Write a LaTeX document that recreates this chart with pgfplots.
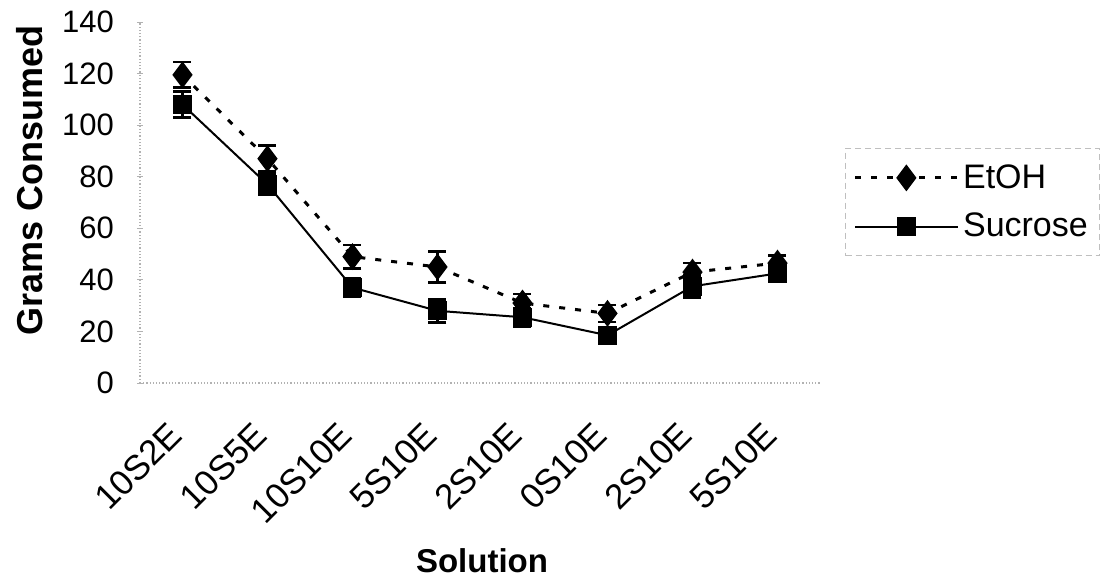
\documentclass[border=0pt]{standalone}
\usepackage{pgfplots}
\pgfplotsset{compat=1.18}
\usepackage{fontspec}
\setmainfont{Liberation Sans}
\usetikzlibrary{calc}
\begin{document}
\begin{tikzpicture}
\begin{axis}[
  name=ax,
  scale only axis,
  width=340pt, height=180.5pt,
  xmin=-0.5, xmax=7.5,
  ymin=0, ymax=140,
  ytick={0,20,...,140},
  xtick={0,...,7},
  xticklabels={10S2E,10S5E,10S10E,5S10E,2S10E,0S10E,2S10E,5S10E},
  axis x line=bottom, axis y line=left,
  axis line style={-, gray!60, densely dotted, line width=0.6pt},
  x tick style={draw=none},
  y tick style={gray!60, line width=0.5pt},
  major tick length=3pt,
  /pgf/number format/assume math mode=true,
  yticklabel style={xshift=-8pt, font=\fontsize{15.5}{17}\selectfont},
  xticklabel style={xshift=-1pt, yshift=-19pt, rotate=45, anchor=east, font=\fontsize{17.5}{19}\selectfont},
  xlabel={\textbf{Solution}},
  ylabel={\textbf{Grams Consumed}},
  xlabel style={at={(axis description cs:0.503,-0.493)}, anchor=center, font=\fontsize{16.5}{18}\selectfont},
  ylabel style={at={(axis description cs:-0.162,0.56)}, anchor=center, rotate=0, font=\fontsize{18}{20}\selectfont},
  legend style={at={(axis description cs:1.037,0.651)}, anchor=north west,
    draw=gray!50, densely dashed, line width=0.5pt,
    font=\fontsize{17}{19}\selectfont, inner xsep=4pt, inner ysep=6pt,
    row sep=7pt, cells={anchor=west}},
  legend image code/.code={\draw[mark repeat=2,mark phase=2,#1] plot coordinates {(0cm,0cm) (0.9cm,0cm) (1.8cm,0cm)};},
  clip=false,
]
\addplot[black, line width=1.5pt, dash pattern=on 3pt off 5pt,
  mark=diamond*, mark size=5.5pt, mark options={solid},
  error bars/.cd, y dir=both, y explicit,
  error bar style={solid, line width=1.3pt},
  error mark options={rotate=90, mark size=4.5pt, line width=1.3pt, solid}]
  coordinates {
  (0,119.5) +- (0,5)
  (1,87) +- (0,5)
  (2,49) +- (0,4.5)
  (3,45) +- (0,6)
  (4,31) +- (0,3.5)
  (5,27) +- (0,3.3)
  (6,43) +- (0,3.5)
  (7,46.5) +- (0,3)
  };
\addlegendentry{EtOH}
\addplot[black, line width=1pt,
  mark=square*, mark size=4.2pt, mark options={solid},
  error bars/.cd, y dir=both, y explicit,
  error bar style={solid, line width=1.3pt},
  error mark options={rotate=90, mark size=4.5pt, line width=1.3pt, solid}]
  coordinates {
  (0,108) +- (0,5)
  (1,77) +- (0,4)
  (2,37) +- (0,3.5)
  (3,28) +- (0,4.5)
  (4,25.5) +- (0,3.5)
  (5,18.5) +- (0,1.5)
  (6,37.5) +- (0,4.3)
  (7,42.5) +- (0,2.5)
  };
\addlegendentry{Sucrose}
\end{axis}
\pgfresetboundingbox
\useasboundingbox ($(ax.south west)+(-70pt,-98.5pt)$) rectangle ($(ax.south west)+(483.5pt,191.5pt)$);
\end{tikzpicture}
\end{document}
